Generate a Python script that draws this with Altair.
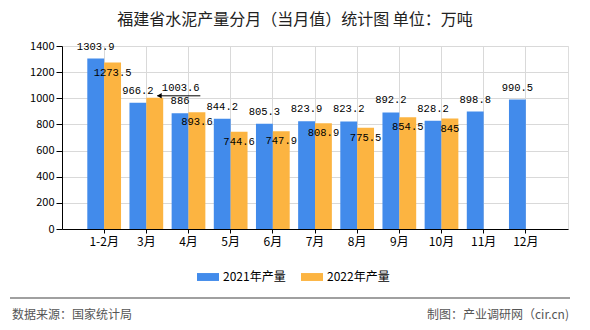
import altair as alt
import pandas as pd

months = ["1-2月", "3月", "4月", "5月", "6月", "7月", "8月", "9月", "10月", "11月", "12月"]
v2021 = [1303.9, 966.2, 886, 844.2, 805.3, 823.9, 823.2, 892.2, 828.2, 898.8, 990.5]
v2022 = [1273.5, 1003.6, 893.6, 744.6, 747.9, 808.9, 775.5, 854.5, 845, None, None]
series = ["2021年产量", "2022年产量"]
colors = ["#428BEB", "#FCB441"]
y_ticks = [0, 200, 400, 600, 800, 1000, 1200, 1400]
title_text = "福建省水泥产量分月（当月值）统计图 单位：万吨"
source_text = "数据来源：国家统计局"
credit_text = "制图：产业调研网（cir.cn)"
callout_month = "3月"

rows = []
for m, a, b in zip(months, v2021, v2022):
    for s, v in zip(series, [a, b]):
        if v is not None:
            rows.append({"month": m, "series": s, "value": v, "label": f"{v:g}"})
df = pd.DataFrame(rows)

FONT = "Noto Sans CJK SC"
LFONT = "Liberation Mono"

x_enc = alt.X(
    "month:N",
    sort=months,
    scale=alt.Scale(domain=months, paddingInner=0.2, paddingOuter=0.6),
    axis=alt.Axis(
        title=None, labelAngle=0, grid=True, gridColor="#d9d9d9",
        domainColor="#000000", tickColor="#000000", tickSize=4,
        labelFontSize=12, labelFont=FONT, labelColor="#000000",
        labelPadding=3, bandPosition=0.5,
    ),
)
xo_enc = alt.XOffset(
    "series:N", scale=alt.Scale(domain=series, paddingInner=0, paddingOuter=0)
)
y_enc = alt.Y(
    "value:Q",
    scale=alt.Scale(domain=[0, 1400], nice=False),
    axis=alt.Axis(
        title=None, values=y_ticks, format="d", labelOverlap=False, labelFlush=False,
        grid=True, gridColor="#d9d9d9",
        domainColor="#000000", tickColor="#000000", tickSize=6,
        labelFontSize=11, labelFont=FONT, labelColor="#000000", labelPadding=2,
    ),
)

base = alt.Chart(df)

bars = base.mark_bar().encode(
    x=x_enc,
    xOffset=xo_enc,
    y=y_enc,
    color=alt.Color(
        "series:N",
        scale=alt.Scale(domain=series, range=colors),
        legend=alt.Legend(
            title=None, orient="none", legendX=135, legendY=220,
            direction="horizontal",
            symbolType="M-1,-0.36H1V0.36H-1Z", symbolSize=484,
            symbolStrokeWidth=0, labelFontSize=12, labelFont=FONT,
            labelColor="#000000", labelOffset=4, columnPadding=15, padding=0,
        ),
    ),
)

lbl_2021 = base.transform_filter(
    alt.datum.series == series[0]
).mark_text(dy=-12, baseline="middle", font=LFONT, fontSize=10.5, color="#000000").encode(
    x=x_enc, xOffset=xo_enc, y=y_enc, text="label:N"
)

lbl_2022 = base.transform_filter(
    (alt.datum.series == series[1]) & (alt.datum.month != callout_month)
).mark_text(dy=10, baseline="middle", font=LFONT, fontSize=10.5, color="#000000").encode(
    x=x_enc, xOffset=xo_enc, y=y_enc, text="label:N"
)

callout_df = df[(df.series == series[1]) & (df.month == callout_month)]
callout_base = alt.Chart(callout_df)
callout_text = callout_base.mark_text(
    dx=26, dy=-10, baseline="middle", font=LFONT, fontSize=10.5, color="#000000"
).encode(x=x_enc, xOffset=xo_enc, y=y_enc, text="label:N")
callout_line = callout_base.mark_rule(
    color="#000000", strokeWidth=1, xOffset=11, x2Offset=54, yOffset=-2
).encode(x=x_enc, x2="month:N", y=y_enc)
callout_head = callout_base.mark_point(
    shape="triangle-left", filled=True, size=30, color="#000000", opacity=1,
    xOffset=13, yOffset=-2
).encode(x=x_enc, y=y_enc)

title = alt.Chart(pd.DataFrame({"t": [title_text]})).mark_text(
    font=FONT, fontSize=16, color="#222222", align="center", baseline="middle"
).encode(x=alt.value(233), y=alt.value(-26), text="t:N")

footer_line = alt.Chart(pd.DataFrame({"a": [0]})).mark_rule(
    color="#808080", strokeWidth=1.5
).encode(x=alt.value(-52), x2=alt.value(508), y=alt.value(252))

footer_left = alt.Chart(pd.DataFrame({"t": [source_text]})).mark_text(
    font=FONT, fontSize=12, color="#555555", align="left", baseline="middle"
).encode(x=alt.value(-50), y=alt.value(269), text="t:N")

footer_right = alt.Chart(pd.DataFrame({"t": [credit_text]})).mark_text(
    font=FONT, fontSize=12, color="#555555", align="right", baseline="middle"
).encode(x=alt.value(507), y=alt.value(269), text="t:N")

chart = alt.layer(
    bars, lbl_2021, lbl_2022, callout_line, callout_head, callout_text,
    title, footer_line, footer_left, footer_right,
).properties(
    width=506, height=183,
    autosize=alt.AutoSizeParams(type="none"),
    padding={"left": 62, "top": 46, "right": 22, "bottom": 101},
).configure_view(
    stroke="#d9d9d9"
).configure(background="white")

chart.save("out.html", embed_options={"renderer": "svg", "actions": False})
